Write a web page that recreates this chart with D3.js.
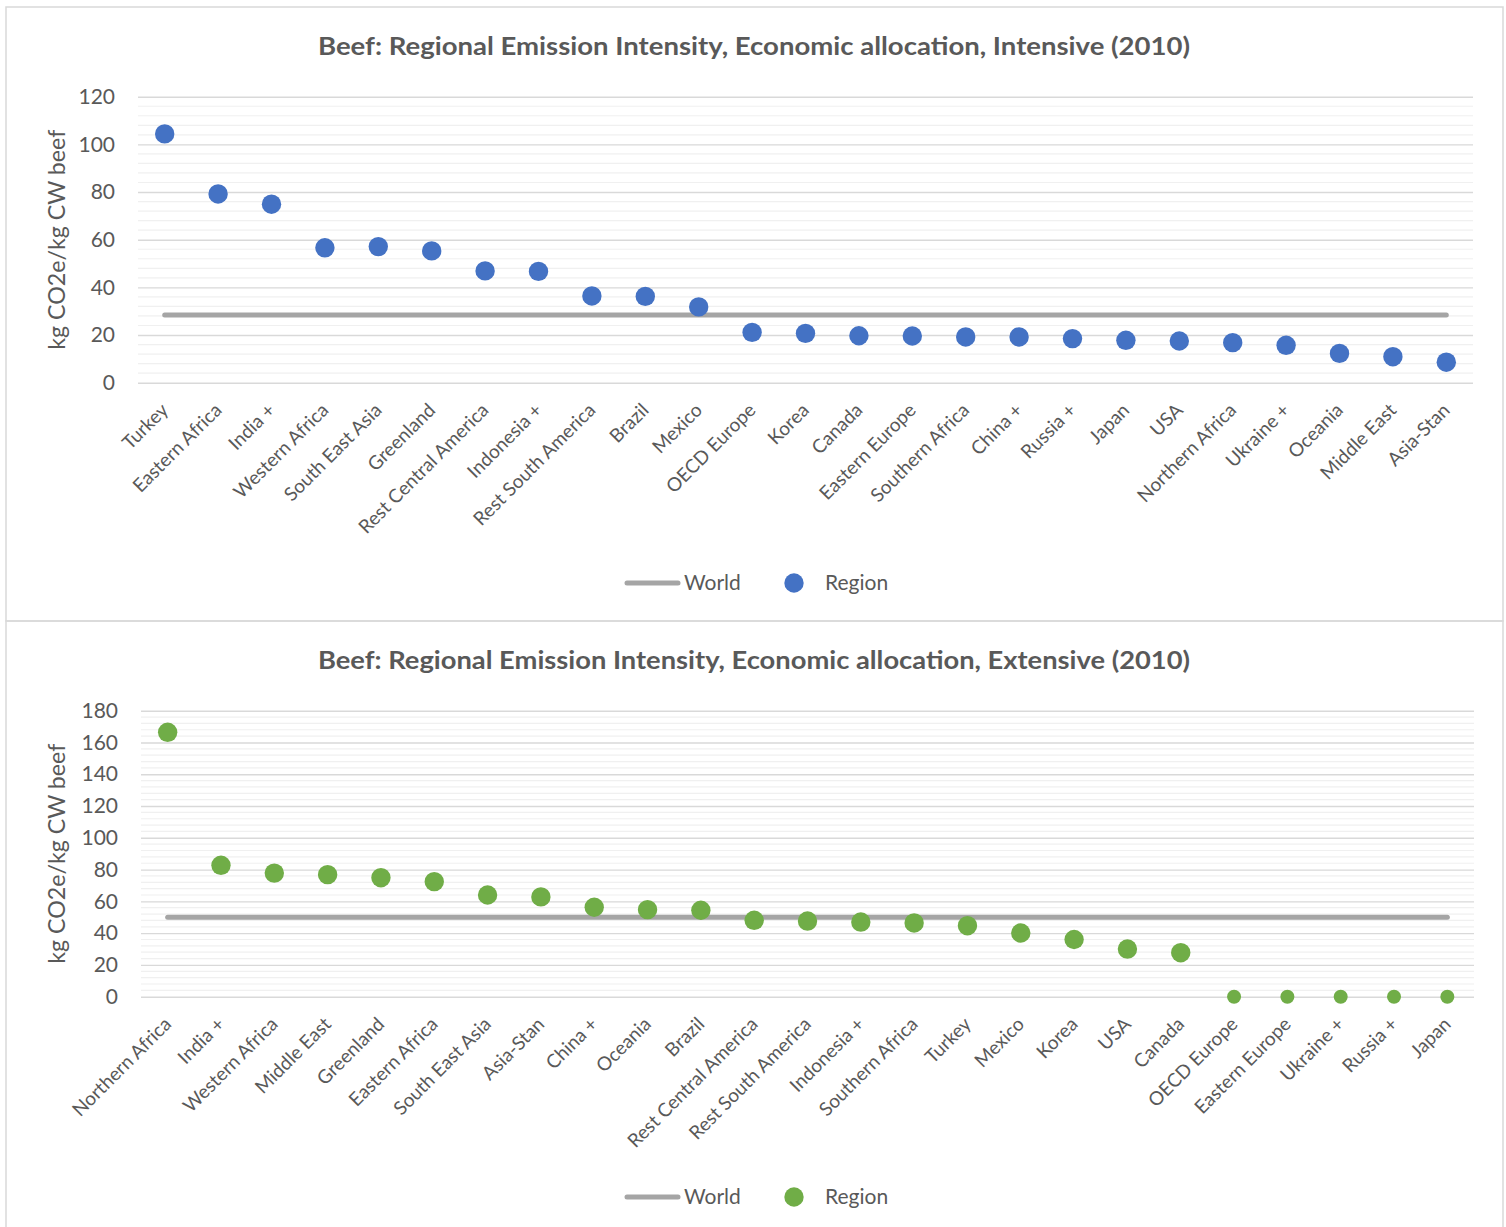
<!DOCTYPE html>
<html>
<head>
<meta charset="utf-8">
<script src="https://cdn.jsdelivr.net/npm/d3@7"></script>
<style>
  html, body { margin: 0; padding: 0; background: #ffffff; }
  svg { display: block; }
  text { font-family: Lato, "Open Sans", "Liberation Sans", sans-serif; fill: #595959; }
</style>
</head>
<body>
<svg id="chart" width="1506" height="1227"></svg>
<script>
// Regions in the order plotted, intensive systems
const intensiveRegions = ["Turkey", "Eastern Africa", "India +", "Western Africa", "South East Asia",
  "Greenland", "Rest Central America", "Indonesia +", "Rest South America", "Brazil", "Mexico",
  "OECD Europe", "Korea", "Canada", "Eastern Europe", "Southern Africa", "China +", "Russia +",
  "Japan", "USA", "Northern Africa", "Ukraine +", "Oceania", "Middle East", "Asia-Stan"];
const intensiveValues = [104.4, 79.2, 74.9, 56.6, 57.1, 55.3, 46.9, 46.7, 36.4, 36.2, 31.8,
  21.1, 20.7, 19.7, 19.6, 19.2, 19.2, 18.5, 17.8, 17.5, 16.8, 15.7, 12.3, 10.9, 8.6];
const intensiveWorld = 28.4;
const intensiveTicks = [0, 20, 40, 60, 80, 100, 120];

// Regions in the order plotted, extensive systems
const extensiveRegions = ["Northern Africa", "India +", "Western Africa", "Middle East", "Greenland",
  "Eastern Africa", "South East Asia", "Asia-Stan", "China +", "Oceania", "Brazil",
  "Rest Central America", "Rest South America", "Indonesia +", "Southern Africa", "Turkey",
  "Mexico", "Korea", "USA", "Canada", "OECD Europe", "Eastern Europe", "Ukraine +", "Russia +", "Japan"];
const extensiveValues = [166.4, 82.7, 77.8, 76.8, 74.9, 72.4, 64.0, 62.8, 56.3, 54.8, 54.4,
  48.1, 47.6, 47.0, 46.4, 44.7, 40.1, 36.0, 30.0, 27.7, 0, 0, 0, 0, 0];
const extensiveWorld = 50.0;
const extensiveTicks = [0, 20, 40, 60, 80, 100, 120, 140, 160, 180];

const axisTitle = "kg CO2e/kg CW beef";
const legendLabels = ["World", "Region"];

const svg = d3.select("#chart");

// panel frames
svg.append("rect").attr("x", 6).attr("y", 7).attr("width", 1497).attr("height", 614)
  .attr("fill", "none").attr("stroke", "#d9d9d9").attr("stroke-width", 1.5);
svg.append("rect").attr("x", 6).attr("y", 621).attr("width", 1497).attr("height", 620)
  .attr("fill", "none").attr("stroke", "#d9d9d9").attr("stroke-width", 1.5);

function drawPanel(cfg) {
  const g = svg.append("g");
  const maxTick = cfg.ticks[cfg.ticks.length - 1];
  const step = cfg.ticks[1] - cfg.ticks[0];

  const x = d3.scaleBand().domain(cfg.regions).range([cfg.left, cfg.right]);
  const y = d3.scaleLinear().domain([0, maxTick]).range([cfg.bottom, cfg.top]);

  // minor gridlines (five per major step)
  const minor = d3.range(0, maxTick + 0.001, step / 5).filter(v => Math.abs(v % step) > 1e-6 && Math.abs(v % step - step) > 1e-6);
  g.append("g").selectAll("line").data(minor).join("line")
    .attr("x1", cfg.left).attr("x2", cfg.right)
    .attr("y1", d => y(d)).attr("y2", d => y(d))
    .attr("stroke", "#f0f0f0").attr("stroke-width", 1.2);

  // y axis with major gridlines
  const yAxis = d3.axisLeft(y).tickValues(cfg.ticks).tickSize(-(cfg.right - cfg.left)).tickPadding(23);
  const ya = g.append("g").attr("transform", `translate(${cfg.left},0)`).call(yAxis);
  ya.select(".domain").remove();
  ya.selectAll(".tick line").attr("stroke", "#d9d9d9").attr("stroke-width", 1.4);
  ya.selectAll(".tick text").style("font-size", "21px").attr("fill", "#595959");

  // x axis labels
  const xAxis = d3.axisBottom(x).tickSize(0).tickPadding(0);
  const xa = g.append("g").attr("transform", `translate(0,${cfg.bottom + 24})`).call(xAxis);
  xa.select(".domain").remove();
  xa.selectAll(".tick text")
    .style("font-size", "19px").attr("fill", "#595959")
    .attr("text-anchor", "end")
    .attr("dy", "0.35em").attr("y", 0).attr("x", 0)
    .attr("transform", "rotate(-45)");

  // world average line
  const line = d3.line().x(d => x(d) + x.bandwidth() / 2).y(() => y(cfg.world));
  g.append("path").datum(cfg.regions).attr("d", line)
    .attr("fill", "none").attr("stroke", "#a5a5a5").attr("stroke-width", 5)
    .attr("stroke-linecap", "round");

  // region markers
  g.append("g").selectAll("circle").data(cfg.regions.map((r, i) => ({ r, v: cfg.values[i] }))).join("circle")
    .attr("cx", d => x(d.r) + x.bandwidth() / 2)
    .attr("cy", d => y(d.v))
    .attr("r", d => d.v === 0 ? 7 : 9.7)
    .attr("fill", cfg.color);

  // chart title
  g.append("text").attr("x", 754).attr("y", cfg.titleY).attr("text-anchor", "middle")
    .attr("dy", "0.35em").style("font-size", "25px").style("font-weight", "bold")
    .attr("textLength", 872).attr("lengthAdjust", "spacingAndGlyphs")
    .text(cfg.title);

  // y axis title
  g.append("text").attr("transform", `translate(57,${(cfg.top + cfg.bottom) / 2}) rotate(-90)`)
    .attr("text-anchor", "middle").attr("dy", "0.35em").style("font-size", "23.5px")
    .attr("textLength", 220).attr("lengthAdjust", "spacingAndGlyphs")
    .text(axisTitle);

  // legend
  const lg = g.append("g").attr("transform", `translate(0,${cfg.legendY})`);
  lg.append("line").attr("x1", 627).attr("x2", 678).attr("y1", 0).attr("y2", 0)
    .attr("stroke", "#a5a5a5").attr("stroke-width", 5).attr("stroke-linecap", "round");
  lg.append("text").attr("x", 684).attr("y", 0).attr("dy", "0.35em").style("font-size", "21px").text(legendLabels[0]);
  lg.append("circle").attr("cx", 794).attr("cy", 0).attr("r", 9.7).attr("fill", cfg.color);
  lg.append("text").attr("x", 825).attr("y", 0).attr("dy", "0.35em").style("font-size", "21px").text(legendLabels[1]);
}

drawPanel({
  regions: intensiveRegions, values: intensiveValues, world: intensiveWorld, ticks: intensiveTicks,
  left: 138, right: 1473, top: 96.7, bottom: 382.7, color: "#4472c4",
  title: "Beef: Regional Emission Intensity, Economic allocation, Intensive (2010)",
  titleY: 46, legendY: 583
});

drawPanel({
  regions: extensiveRegions, values: extensiveValues, world: extensiveWorld, ticks: extensiveTicks,
  left: 141, right: 1474, top: 710.7, bottom: 996.7, color: "#70ad47",
  title: "Beef: Regional Emission Intensity, Economic allocation, Extensive (2010)",
  titleY: 660, legendY: 1197
});
</script>
</body>
</html>
